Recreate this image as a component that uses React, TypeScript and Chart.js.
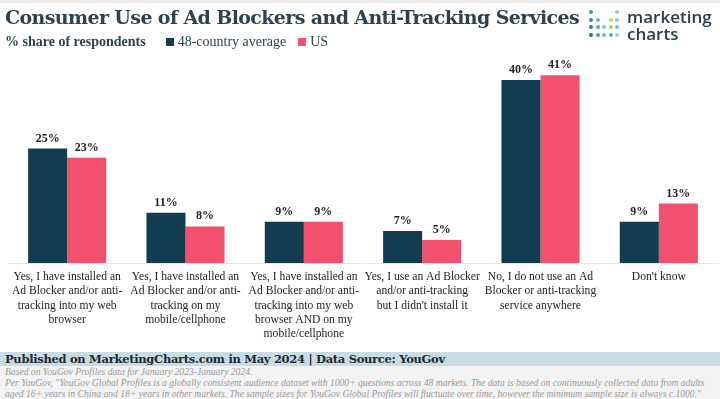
import React, { useEffect, useRef } from "react";
import { Chart, registerables } from "chart.js";

Chart.register(...registerables);

const categories: string[][] = [
  ["Yes, I have installed an", "Ad Blocker and/or anti-", "tracking into my web", "browser"],
  ["Yes, I have installed an", "Ad Blocker and/or anti-", "tracking on my", "mobile/cellphone"],
  ["Yes, I have installed an", "Ad Blocker and/or anti-", "tracking into my web", "browser AND on my", "mobile/cellphone"],
  ["Yes, I use an Ad Blocker", "and/or anti-tracking", "but I didn't install it"],
  ["No, I do not use an Ad", "Blocker or anti-tracking", "service anywhere"],
  ["Don't know"],
];
const avg48 = [25, 11, 9, 7, 40, 9];
const us = [23, 8, 9, 5, 41, 13];
const seriesNames = ["48-country average", "US"];
const DARK = "#123d51";
const PINK = "#f2506f";

const SERIF = "'DejaVu Serif', 'Liberation Serif', serif";
const SERIF2 = "'Liberation Serif', 'DejaVu Serif', serif";

const valueLabels = {
  id: "valueLabels",
  afterDatasetsDraw(chart: any) {
    const ctx = chart.ctx;
    ctx.save();
    ctx.fillStyle = "#222";
    ctx.font = "bold 12px " + SERIF2;
    ctx.textAlign = "center";
    ctx.textBaseline = "bottom";
    chart.data.datasets.forEach((ds: any, i: number) => {
      const meta = chart.getDatasetMeta(i);
      meta.data.forEach((bar: any, j: number) => {
        ctx.fillText(ds.data[j] + "%", bar.x, bar.y - 4);
      });
    });
    ctx.restore();
  },
};

const dotColors = [
  ["#2f9bb0", null, null, null, "#8fc7dd"],
  ["#2f8fa8", "#6fb4c8", null, "#c7dc4a", "#8fc7dd"],
  ["#2a7f9a", "#5aa7c0", "#7dbfd2", "#a9d36a", "#6fc0d8"],
  ["#2a7390", "#4e9cb8", "#6eb3ca", "#4fb0c8", "#9ad1e2"],
];

export default function App() {
  const ref = useRef<HTMLCanvasElement>(null);
  useEffect(() => {
    const chart = new Chart(ref.current!, {
      type: "bar",
      data: {
        labels: categories,
        datasets: [
          { label: seriesNames[0], data: avg48, backgroundColor: DARK, barPercentage: 1, categoryPercentage: 0.66 },
          { label: seriesNames[1], data: us, backgroundColor: PINK, barPercentage: 1, categoryPercentage: 0.66 },
        ],
      },
      options: {
        animation: false,
        responsive: false,
        maintainAspectRatio: false,
        layout: { padding: { left: 8, right: 2, top: 57, bottom: 0 } },
        plugins: { legend: { display: false }, tooltip: { enabled: false } },
        scales: {
          x: {
            grid: { display: false },
            border: { display: true, color: "#e4e4e4" },
            ticks: {
              color: "#222",
              font: { family: SERIF2, size: 11.6, lineHeight: 1.23 },
              padding: -1,
              maxRotation: 0,
              autoSkip: false,
            },
            afterFit: (scale: any) => {
              scale.height = 136;
            },
          },
          y: { display: false, min: 0, max: 45 },
        },
      },
      plugins: [valueLabels],
    });
    return () => chart.destroy();
  }, []);

  return (
    <div style={{ position: "absolute", left: 0, top: 0, width: 720, height: 399, background: "#fff", overflow: "hidden" }}>
      <div style={{ position: "absolute", left: 0, top: 0, width: 720, height: 3, background: "#ececec" }} />
      <canvas ref={ref} width={720} height={399} style={{ position: "absolute", left: 0, top: 0, width: 720, height: 399 }} />
      <div style={{ position: "absolute", left: 5, top: 6, fontFamily: SERIF, fontWeight: "bold", fontSize: 19, color: "#2c4250", whiteSpace: "nowrap", letterSpacing: -0.62 }}>
        Consumer Use of Ad Blockers and Anti-Tracking Services
      </div>
      <div style={{ position: "absolute", left: 5, top: 34, fontFamily: SERIF2, fontSize: 14, color: "#2c4250", whiteSpace: "nowrap", display: "flex", alignItems: "center" }}>
        <span style={{ fontWeight: "bold" }}>% share of respondents</span>
        <span style={{ display: "inline-block", width: 8, height: 8, background: DARK, marginLeft: 20, marginRight: 4 }} />
        <span>{seriesNames[0]}</span>
        <span style={{ display: "inline-block", width: 8, height: 8, background: PINK, marginLeft: 12, marginRight: 4 }} />
        <span>{seriesNames[1]}</span>
      </div>
      <div style={{ position: "absolute", left: 589, top: 10 }}>
        {dotColors.map((row, r) =>
          row.map((c, k) =>
            c ? (
              <span key={r + "-" + k} style={{ position: "absolute", left: k * 6.5, top: r * 7.5, width: 4, height: 4, borderRadius: 2, background: c }} />
            ) : null
          )
        )}
      </div>
      <div style={{ position: "absolute", left: 627, top: 8, fontFamily: "'Open Sans', 'DejaVu Sans', sans-serif", fontWeight: 600, fontSize: 17, lineHeight: "17px", color: "#2c3e48" }}>
        marketing
        <br />
        charts
      </div>
      <div style={{ position: "absolute", left: 0, top: 352, width: 720, height: 14, background: "#c9dbe3" }} />
      <div style={{ position: "absolute", left: 0, top: 366, width: 720, height: 33, background: "#f3f3f3" }} />
      <div style={{ position: "absolute", left: 5, top: 352, fontFamily: SERIF, fontWeight: "bold", fontSize: 11.5, lineHeight: "14px", color: "#1e2a30", whiteSpace: "nowrap", letterSpacing: -0.3 }}>
        Published on MarketingCharts.com in May 2024 | Data Source: YouGov
      </div>
      <div style={{ position: "absolute", left: 5, top: 366, fontFamily: SERIF2, fontStyle: "italic", fontSize: 9.6, lineHeight: "11px", color: "#9a9a9a", whiteSpace: "nowrap" }}>
        Based on YouGov Profiles data for January 2023-January 2024.
        <br />
        Per YouGov, "YouGov Global Profiles is a globally consistent audience dataset with 1000+ questions across 48 markets. The data is based on continuously collected data from adults
        <br />
        aged 16+ years in China and 18+ years in other markets. The sample sizes for YouGov Global Profiles will fluctuate over time, however the minimum sample size is always c.1000."
      </div>
    </div>
  );
}
